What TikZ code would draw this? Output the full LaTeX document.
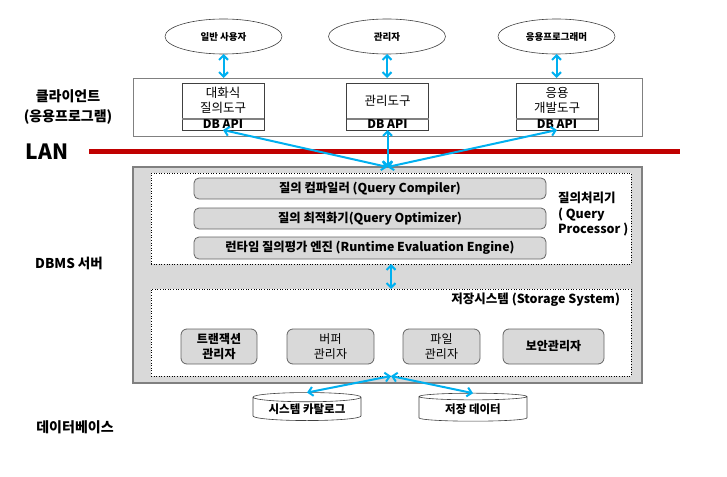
\documentclass[tikz,border=0pt]{standalone}
\usepackage{fontspec}
\setmainfont{Noto Sans CJK KR}
\usetikzlibrary{arrows.meta,shapes.geometric}

\begin{document}
\begin{tikzpicture}[x=1pt,y=-1pt,
  every node/.style={inner sep=0pt,outer sep=0pt},
  linkArrow/.style={draw=arrowColor,line width=2pt,{Straight Barb[length=4.5pt,width=9pt]}-{Straight Barb[length=4.5pt,width=9pt]}},
  userNode/.style={ellipse,draw=toolColor,line width=0.6pt,fill=white,minimum width=117pt,minimum height=35pt,font=\bfseries\fontsize{9.5}{11}\selectfont},
  toolBox/.style={draw=toolColor,line width=0.8pt,fill=white,minimum width=82pt,minimum height=47pt},
  toolText/.style={align=center,font=\fontsize{12.5}{15}\selectfont},
  apiText/.style={font=\bfseries\fontsize{12}{14}\selectfont},
  dottedBox/.style={draw=black,dotted,line width=0.6pt,fill=white,minimum width=480pt},
  engineBar/.style={rounded corners=5pt,draw=barColor,line width=0.8pt,fill=panelColor,minimum width=352pt,minimum height=21pt,font=\bfseries\fontsize{12.3}{14}\selectfont},
  managerBox/.style={rounded corners=6pt,draw=barColor,line width=0.8pt,fill=panelColor,minimum height=35pt,align=center,font=\fontsize{12}{15}\selectfont},
  storeCyl/.style={cylinder,shape border rotate=90,aspect=0.12,draw=toolColor,line width=0.6pt,fill=white,minimum width=108pt,minimum height=28pt,font=\bfseries\fontsize{11.5}{13}\selectfont},
  sideLabel/.style={align=center,font=\bfseries\fontsize{14}{20}\selectfont}]
\definecolor{arrowColor}{RGB}{0,176,240}
\definecolor{lanColor}{RGB}{192,0,0}
\definecolor{panelColor}{RGB}{217,217,217}
\definecolor{frameColor}{RGB}{128,128,128}
\definecolor{barColor}{RGB}{100,100,100}
\definecolor{toolColor}{RGB}{64,64,64}
\path[use as bounding box,fill=white] (0,0) rectangle (727,476);

\node[sideLabel] (clientLabel) at (68,107.5) {클라이언트\\(응용프로그램)};
\node[font=\bfseries\fontsize{21}{24}\selectfont] (lanLabel) at (47,152) {LAN};
\node[sideLabel,font=\bfseries\fontsize{13.5}{16}\selectfont] (dbmsLabel) at (69,263) {DBMS 서버};
\node[sideLabel] (dbLabel) at (75,427) {데이터베이스};

\node[userNode] (endUser) at (223.5,36.5) {일반 사용자};
\node[userNode] (dbAdmin) at (387,36.5) {관리자};
\node[userNode] (appProg) at (556.5,36.5) {응용프로그래머};

\node[draw=frameColor,line width=0.8pt,minimum width=509pt,minimum height=58pt] (clientBox) at (387.5,107) {};
\node[toolBox] (queryTool) at (223,106.5) {};
\node[toolBox] (adminTool) at (387.5,106.5) {};
\node[toolBox] (devTool) at (557,106.5) {};
\foreach \tool in {queryTool,adminTool,devTool}
  \draw[frameColor,line width=1.5pt] ([yshift=11pt]\tool.south west) -- ([yshift=11pt]\tool.south east);
\node[toolText] (queryToolText) at (223,100) {대화식\\질의도구};
\node[toolText] (adminToolText) at (387.5,101) {관리도구};
\node[toolText] (devToolText) at (557,100) {응용\\개발도구};
\node[apiText] (queryApi) at (223,124.5) {DB API};
\node[apiText] (adminApi) at (387.5,124.5) {DB API};
\node[apiText] (devApi) at (557,124.5) {DB API};

\draw[linkArrow] (endUser.south) -- (endUser.south |- clientBox.north);
\draw[linkArrow] (dbAdmin.south) -- (dbAdmin.south |- clientBox.north);
\draw[linkArrow] (appProg.south) -- (appProg.south |- clientBox.north);

\draw[lanColor,line width=5pt] (89,151.5) -- (680,151.5);

\node[draw=frameColor,line width=1.6pt,fill=panelColor,minimum width=509pt,minimum height=216pt] (dbmsBox) at (387.5,275) {};
\node[dottedBox,minimum height=91pt] (queryBox) at (391,218.5) {};
\node[dottedBox,minimum height=87pt] (storageBox) at (391,332.5) {};

\draw[linkArrow] (queryTool.south) -- (dbmsBox.north);
\draw[linkArrow] (adminTool.south) -- (dbmsBox.north);
\draw[linkArrow] (devTool.south) -- (dbmsBox.north);

\node[engineBar] (compilerBar) at (370,188.5) {질의 컴파일러 (Query Compiler)};
\node[engineBar] (optimizerBar) at (370,218.5) {질의 최적화기(Query Optimizer)};
\node[engineBar,minimum height=22pt] (runtimeBar) at (370,248) {런타임 질의평가 엔진 (Runtime Evaluation Engine)};
\node[anchor=north west,align=left,font=\bfseries\fontsize{12.5}{15.5}\selectfont] (processorLabel) at (558,192) {질의처리기\\( Query\\Processor )};

\draw[linkArrow] (queryBox.south) -- (storageBox.north);
\node[anchor=east,font=\bfseries\fontsize{12.5}{14}\selectfont] (storageLabel) at (620,300) {저장시스템 (Storage System)};

\node[managerBox,minimum width=76pt,font=\bfseries\fontsize{12}{15}\selectfont] (txnManager) at (219,346.5) {트랜잭션\\관리자};
\node[managerBox,minimum width=87pt] (bufferManager) at (330.5,346.5) {버퍼\\관리자};
\node[managerBox,minimum width=77pt] (fileManager) at (441.5,346.5) {파일\\관리자};
\node[managerBox,minimum width=101pt,font=\bfseries\fontsize{12}{15}\selectfont] (securityManager) at (553.5,346.5) {보안관리자};

\node[storeCyl] (catalogDb) at (307,409) {시스템 카탈로그};
\node[storeCyl] (dataDb) at (473,409) {저장 데이터};
\draw[linkArrow] (storageBox.south) -- (catalogDb.north);
\draw[linkArrow] (storageBox.south) -- (dataDb.north);
\end{tikzpicture}
\end{document}
